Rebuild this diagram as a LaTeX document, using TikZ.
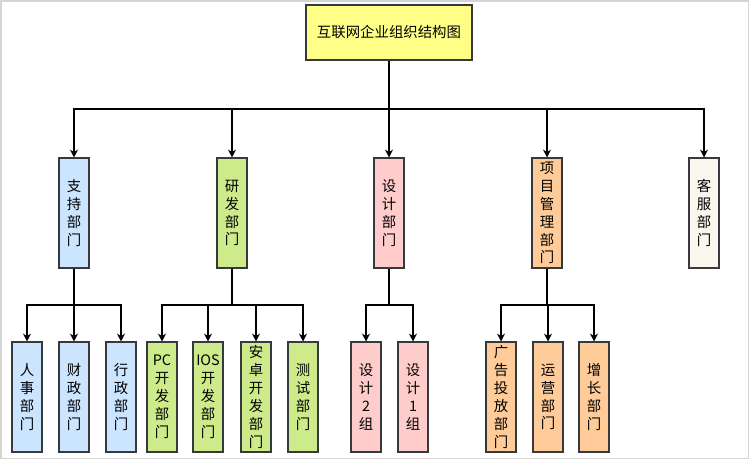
\documentclass[tikz,border=0pt]{standalone}
\usepackage{fontspec}
\setmainfont{Noto Sans CJK SC}
\usepackage{tikz}
\usetikzlibrary{arrows.meta}
\usetikzlibrary{positioning, calc}
\definecolor{boxline}{HTML}{36393D}
\definecolor{rootfill}{HTML}{FFFF88}
\definecolor{bluefill}{HTML}{CCE5FF}
\definecolor{greenfill}{HTML}{CDEB8B}
\definecolor{pinkfill}{HTML}{FFCCCC}
\definecolor{orangefill}{HTML}{FFCC99}
\definecolor{creamfill}{HTML}{F9F7ED}
\definecolor{framegray}{HTML}{D4D4D4}

\begin{document}
\begin{tikzpicture}[x=0.02cm, y=-0.02cm,
    dept/.style={draw=boxline, line width=0.6pt, inner sep=0pt, align=center,
        minimum width=0.6cm, minimum height=2.2cm,
        font=\fontsize{8.2}{10.2}\selectfont},
    link/.style={draw=black, line width=0.6pt, -{Stealth[length=4.5pt, width=4.5pt]}}]
    \useasboundingbox (0,0) rectangle (750,460);
    \draw[framegray, line width=0.9pt] (1,1) rectangle (748.5,458.5);

    \node[dept, fill=rootfill, minimum width=3.32cm, minimum height=1.1cm] (root) at (389,32.5) {互联网企业组织结构图};

    \coordinate (bus2) at (0,109);
    \coordinate (bus3) at (0,305);

    % second level
    \foreach \x/\n/\c/\t in {
        74/zc/bluefill/{支\\持\\部\\门},
        232/yf/greenfill/{研\\发\\部\\门},
        389/sj/pinkfill/{设\\计\\部\\门},
        547/xm/orangefill/{项\\目\\管\\理\\部\\门},
        704/kf/creamfill/{客\\服\\部\\门}}
    {
        \node[dept, fill=\c] (\n) at (\x,213) {\t};
        \draw[link] (root.south) -- (root.south |- bus2) -| (\n.north);
    }

    % third level
    \foreach \x/\n/\p/\c/\t in {
        27/rs/zc/bluefill/{人\\事\\部\\门},
        74/cz/zc/bluefill/{财\\政\\部\\门},
        121/xz/zc/bluefill/{行\\政\\部\\门},
        162/pc/yf/greenfill/{PC\\开\\发\\部\\门},
        208/ios/yf/greenfill/{IOS\\开\\发\\部\\门},
        256/az/yf/greenfill/{安\\卓\\开\\发\\部\\门},
        303/cs/yf/greenfill/{测\\试\\部\\门},
        366/sjb/sj/pinkfill/{设\\计\\2\\组},
        413/sja/sj/pinkfill/{设\\计\\1\\组},
        501/gg/xm/orangefill/{广\\告\\投\\放\\部\\门},
        548/yy/xm/orangefill/{运\\营\\部\\门},
        594/zz/xm/orangefill/{增\\长\\部\\门}}
    {
        \node[dept, fill=\c] (\n) at (\x,397) {\t};
        \draw[link] (\p.south) -- (\p.south |- bus3) -| (\n.north);
    }
\end{tikzpicture}
\end{document}
